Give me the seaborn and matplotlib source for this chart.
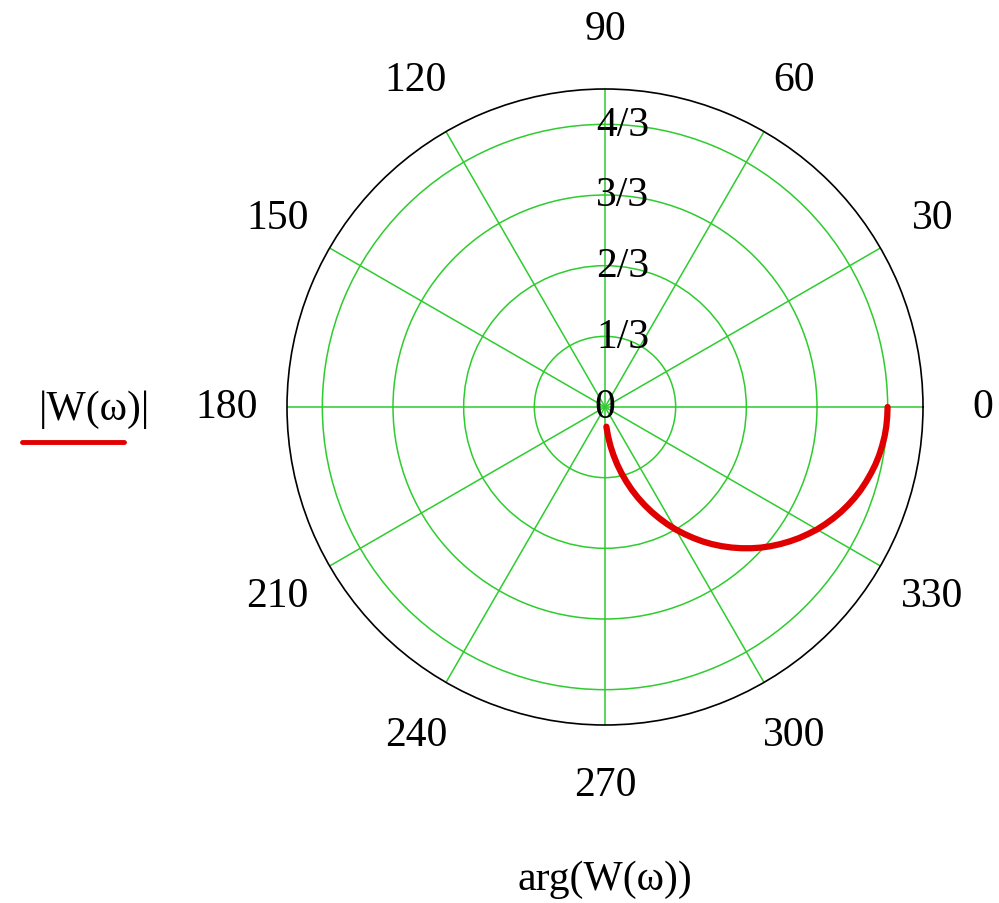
import numpy as np
import matplotlib
matplotlib.use("Agg")
import matplotlib.pyplot as plt
import seaborn as sns
import pandas as pd

# Data (phase in degrees, magnitude)
phase_deg = [0, -2, -4, -6, -8, -10, -12, -14, -16, -18, -20, -22, -24, -26,
             -28, -30, -32, -34, -36, -38, -40, -42, -44, -46, -48, -50, -52,
             -54, -56, -58, -60, -62, -64, -66, -68, -70, -72, -74, -76, -78,
             -80, -82, -84, -86]
magnitude = [1.333, 1.332, 1.330, 1.326, 1.320, 1.313, 1.304, 1.293, 1.281,
             1.268, 1.253, 1.236, 1.218, 1.198, 1.177, 1.155, 1.130, 1.105,
             1.078, 1.050, 1.021, 0.991, 0.959, 0.926, 0.892, 0.857, 0.821,
             0.784, 0.745, 0.706, 0.667, 0.626, 0.584, 0.542, 0.499, 0.456,
             0.412, 0.367, 0.322, 0.277, 0.231, 0.186, 0.139, 0.093]

angle_ticks = [0, 30, 60, 90, 120, 150, 180, 210, 240, 270, 300, 330]
angle_labels = [str(a) for a in angle_ticks]
radial_ticks = [1/3, 2/3, 1.0, 4/3]
radial_labels = ["1/3", "2/3", "3/3", "4/3"]
r_max = 1.5

sns.set_theme(style="white")
plt.rcParams['font.family'] = ['Liberation Serif', 'DejaVu Serif']
plt.rcParams['text.color'] = 'black'

W, H = 999, 904
fig = plt.figure(figsize=(W / 100, H / 100), dpi=100)
cx, cy, R = 605, 408, 318
ax = fig.add_axes([(cx - R) / W, (H - cy - R) / H, 2 * R / W, 2 * R / H],
                  projection='polar')

green = '#2ecc2e'
df = pd.DataFrame({"theta": np.deg2rad(phase_deg), "r": magnitude})
sns.lineplot(data=df, x="theta", y="r", ax=ax, sort=False, estimator=None,
             color='#e00000', linewidth=4.5)

ax.set_ylim(0, r_max)
ax.set_rticks(radial_ticks)
ax.set_yticklabels([])
ax.set_xticks(np.deg2rad(angle_ticks))
ax.set_xticklabels([])
ax.grid(True, color=green, linewidth=1.1)
ax.spines['polar'].set_color('black')
ax.spines['polar'].set_linewidth(1.2)
ax.set_xlabel("")
ax.set_ylabel("")

fs = 30
for a, lab in zip(angle_ticks, angle_labels):
    ax.text(np.deg2rad(a), 1.5 * 378 / 318, lab, ha='center', va='center',
            fontsize=fs, color='black', clip_on=False)

for rv, lab in zip(radial_ticks, radial_labels):
    ax.annotate(lab, xy=(np.pi / 2, rv), xytext=(-9, 0), textcoords='offset pixels',
                ha='left', va='center', fontsize=fs, color='black')
ax.text(0, 0, "0", ha='center', va='center', fontsize=fs, color='black')

fig.text(94 / W, 1 - 410 / H, "|W(ω)|", ha='center', va='center', fontsize=fs,
         color='black')
fig.add_artist(plt.Line2D([22 / W, 124 / W], [1 - 443 / H, 1 - 443 / H],
                          color='#e00000', linewidth=3.5, solid_capstyle='round'))
fig.text(cx / W, 1 - 880 / H, "arg(W(ω))", ha='center', va='center', fontsize=fs,
         color='black')

fig.savefig("out.png", dpi=100, facecolor='white')
